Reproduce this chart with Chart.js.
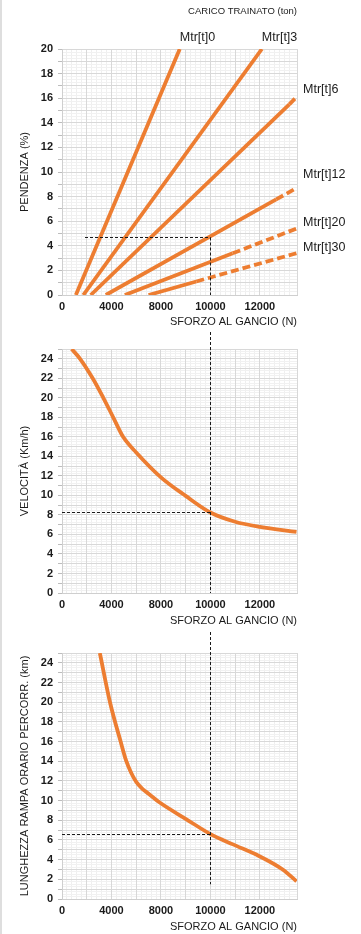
<!DOCTYPE html>
<html><head><meta charset="utf-8">
<script src="https://cdn.jsdelivr.net/npm/chart.js@4.4.1/dist/chart.umd.min.js"></script>
<style>
html,body{margin:0;padding:0;background:#fff;}
body{width:361px;height:934px;position:relative;overflow:hidden;}
#edge{position:absolute;left:0;top:0;width:2px;height:934px;background:#dedede;}
canvas{position:absolute;left:0;}
</style></head><body>
<div id="edge"></div>
<canvas id="c1" width="361" height="332" style="top:0;width:361px;height:332px"></canvas>
<canvas id="c2" width="361" height="300" style="top:332px;width:361px;height:300px"></canvas>
<canvas id="c3" width="361" height="302" style="top:632px;width:361px;height:302px"></canvas>
<script>
// ---------- data ----------
// x tick labels (N) as printed on the axes
const xTickValues = [0, 4000, 8000, 10000, 12000];
const xTickLabels = ['0', '4000', '8000', '10000', '12000'];
const xAxisMaxN = 13500;

// PENDENZA (%) vs SFORZO AL GANCIO (N), one line per CARICO TRAINATO
const mtrNames = ['Mtr[t]0', 'Mtr[t]3', 'Mtr[t]6', 'Mtr[t]12', 'Mtr[t]20', 'Mtr[t]30'];
const mtr0X = [1120, 8760];          const mtr0Y = [0, 20];
const mtr3X = [1720, 12080];         const mtr3Y = [0, 20];
const mtr6X = [2320, 13190, 13480];  const mtr6Y = [0, 15.5, 16.1];
const mtr12X = [3540, 12660, 13480]; const mtr12Y = [0, 7.77, 8.7];
const mtr20X = [5080, 10900, 13480]; const mtr20Y = [0, 3.39, 5.4];
const mtr30X = [7000, 9430, 13480];  const mtr30Y = [0, 1.1, 3.4];
const mtrDashFrom = [null, null, 1, 1, 1, 1]; // first dashed segment index

// VELOCITÀ (Km/h)
const velX = [780, 1460, 2480, 3340, 4140, 4940, 6000, 8000, 9000, 10000, 11000, 12000, 13480];
const velY = [25, 24, 22, 20, 18, 16, 14.4, 11.85, 9.95, 8.25, 7.3, 6.77, 6.26];

// LUNGHEZZA RAMPA ORARIO PERCORR. (km)
const rampX = [3060, 3880, 4740, 5200, 5600, 6000, 6500, 7000, 7900, 9030, 10000, 10910, 11980, 12920, 13480];
const rampY = [25, 20, 16, 14, 12.8, 11.9, 11.2, 10.7, 9.8, 8.1, 6.6, 5.55, 4.35, 3.0, 1.8];

// reading example (crosshair)
const readN = 10000;
const readSlope = 4.75;
const readSlopeFromN = 1860;
const readSpeed = 8.25;
const readRamp = 6.6;
const readRampEnd = 1.5;

// ---------- axis mapping (the printed axis is not uniform) ----------
const xKnotN = [0, 4000, 8000, 10000, 12000, xAxisMaxN];
const xKnotPos = [0, 2, 4, 6, 8, 9.5];
function nToAxis(n) {
  for (let i = 1; i < xKnotN.length; i++) {
    if (n <= xKnotN[i] || i === xKnotN.length - 1) {
      const t = (n - xKnotN[i-1]) / (xKnotN[i] - xKnotN[i-1]);
      return xKnotPos[i-1] + t * (xKnotPos[i] - xKnotPos[i-1]);
    }
  }
}
function labelFor(v) {
  for (let i = 0; i < xTickValues.length; i++) {
    if (Math.abs(nToAxis(xTickValues[i]) - v) < 1e-6) return xTickLabels[i];
  }
  return '';
}
function pts(xs, ys) { return xs.map((x, i) => ({ x: nToAxis(x), y: ys[i] })); }

// ---------- styling ----------
const FONT = "'Liberation Sans', Arial, Helvetica, sans-serif";
const ORANGE = '#ED7D31';
const INK = '#1b1b1b';
Chart.defaults.font.family = FONT;
Chart.defaults.color = INK;

function makeScales(yMax, yTitle, xAxisH, titlePB) {
  return {
    xMinor: {
      type: 'linear', position: 'bottom', min: 0, max: 9.5, z: -1,
      ticks: { display: false, stepSize: 0.2 },
      grid: { color: '#efefef', drawTicks: false },
      border: { display: false },
      afterFit: s => { s.height = 0; }
    },
    yMinor: {
      type: 'linear', position: 'left', min: 0, max: yMax, z: -1,
      ticks: { display: false, stepSize: 0.25 },
      grid: { color: '#f1f1f1', drawTicks: false },
      border: { display: false },
      afterFit: s => { s.width = 0; }
    },
    x: {
      type: 'linear', position: 'bottom', min: 0, max: 9.5,
      ticks: { stepSize: 1, autoSkip: false, maxRotation: 0, padding: 5, color: INK,
               font: { size: 11, weight: 'bold' }, callback: v => labelFor(v) },
      grid: { color: '#d8d8d8', drawTicks: false },
      border: { color: '#cfcfcf' },
      title: { display: true, text: 'SFORZO AL GANCIO (N)', align: 'end', color: INK,
               font: { size: 11 }, padding: { top: 0, bottom: titlePB } },
      afterFit: s => { s.height = xAxisH; }
    },
    y: {
      type: 'linear', position: 'left', min: 0, max: yMax,
      ticks: { stepSize: 1, autoSkip: false, padding: 5, color: INK,
               font: { size: 11, weight: 'bold' }, callback: v => (v % 2 === 0 ? String(v) : '') },
      grid: { color: '#d8d8d8', tickLength: 4, tickColor: '#bdbdbd' },
      border: { color: '#cfcfcf' },
      title: { display: true, text: yTitle, color: INK, font: { size: 11 }, padding: { top: 0, bottom: 0 } },
      afterFit: s => { s.width = 44; }
    }
  };
}

function crossPlugin(cfg) {
  return {
    id: 'cross',
    afterDatasetsDraw(chart) {
      const { ctx, chartArea, scales: { x, y } } = chart;
      const px = Math.round(x.getPixelForValue(nToAxis(cfg.xN))) + 0.5;
      const py = Math.round(y.getPixelForValue(cfg.y)) + 0.5;
      const hx0 = x.getPixelForValue(nToAxis(cfg.fromN));
      const vTop = cfg.vFromCanvasTop ? 0 : py;
      const vBot = cfg.vToValue == null ? chartArea.bottom : y.getPixelForValue(cfg.vToValue);
      ctx.save();
      ctx.strokeStyle = '#1a1a1a';
      ctx.lineWidth = 1;
      ctx.setLineDash([3, 2]);
      ctx.beginPath();
      ctx.moveTo(hx0, py); ctx.lineTo(px, py);
      ctx.stroke();
      ctx.beginPath();
      ctx.moveTo(px, vTop); ctx.lineTo(px, vBot);
      ctx.stroke();
      ctx.restore();
    }
  };
}

const labelPlugin = {
  id: 'mtrLabels',
  afterDatasetsDraw(chart) {
    const { ctx, chartArea } = chart;
    const offsets = [null, null, -7, -13, -6, -6];
    ctx.save();
    ctx.font = '12.5px ' + FONT;
    ctx.fillStyle = INK;
    ctx.textAlign = 'left';
    ctx.textBaseline = 'middle';
    chart.data.datasets.forEach((ds, i) => {
      const meta = chart.getDatasetMeta(i);
      const last = meta.data[meta.data.length - 1];
      if (offsets[i] === null) {
        ctx.fillText(mtrNames[i], last.x, chartArea.top - 11);
      } else {
        ctx.fillText(mtrNames[i], chartArea.right + 6, last.y + offsets[i]);
      }
    });
    ctx.restore();
  }
};

const mtrX = [mtr0X, mtr3X, mtr6X, mtr12X, mtr20X, mtr30X];
const mtrY = [mtr0Y, mtr3Y, mtr6Y, mtr12Y, mtr20Y, mtr30Y];

function lineDataset(label, data, extra) {
  return Object.assign({
    label, data, borderColor: ORANGE, backgroundColor: ORANGE, borderWidth: 3.8,
    pointRadius: 0, fill: false, tension: 0
  }, extra || {});
}

// ---------- chart 1 ----------
new Chart(document.getElementById('c1'), {
  type: 'line',
  data: {
    datasets: mtrNames.map((name, i) => lineDataset(name, pts(mtrX[i], mtrY[i]), {
      segment: { borderDash: ctx => (mtrDashFrom[i] !== null && ctx.p0DataIndex >= mtrDashFrom[i]) ? [8, 4] : undefined }
    }))
  },
  options: {
    responsive: false, animation: false, devicePixelRatio: 1,
    layout: { padding: { left: 18, right: 64, top: 0, bottom: 0 } },
    plugins: {
      legend: { display: false }, tooltip: { enabled: false },
      title: { display: true, text: 'CARICO TRAINATO (ton)', align: 'end', color: INK,
               font: { size: 9.5, weight: 'normal' }, padding: { top: 6, bottom: 31.6 } }
    },
    scales: makeScales(20, 'PENDENZA (%)', 37, 3.4)
  },
  plugins: [crossPlugin({ xN: readN, y: readSlope, fromN: readSlopeFromN }), labelPlugin]
});

// ---------- chart 2 ----------
new Chart(document.getElementById('c2'), {
  type: 'line',
  data: { datasets: [lineDataset('VELOCITÀ (Km/h)', pts(velX, velY), { cubicInterpolationMode: 'monotone' })] },
  options: {
    responsive: false, animation: false, devicePixelRatio: 1,
    layout: { padding: { left: 18, right: 64, top: 17, bottom: 0 } },
    plugins: { legend: { display: false }, tooltip: { enabled: false } },
    scales: makeScales(25, 'VELOCITÀ (Km/h)', 39, 4.4)
  },
  plugins: [crossPlugin({ xN: readN, y: readSpeed, fromN: 0, vFromCanvasTop: true })]
});

// ---------- chart 3 ----------
new Chart(document.getElementById('c3'), {
  type: 'line',
  data: { datasets: [lineDataset('LUNGHEZZA RAMPA ORARIO PERCORR. (km)', pts(rampX, rampY), { cubicInterpolationMode: 'monotone' })] },
  options: {
    responsive: false, animation: false, devicePixelRatio: 1,
    layout: { padding: { left: 18, right: 64, top: 21, bottom: 0 } },
    plugins: { legend: { display: false }, tooltip: { enabled: false } },
    scales: makeScales(25, 'LUNGHEZZA RAMPA ORARIO PERCORR. (km)', 35, 0.7)
  },
  plugins: [crossPlugin({ xN: readN, y: readRamp, fromN: 0, vFromCanvasTop: true, vToValue: readRampEnd })]
});
</script>
</body></html>
